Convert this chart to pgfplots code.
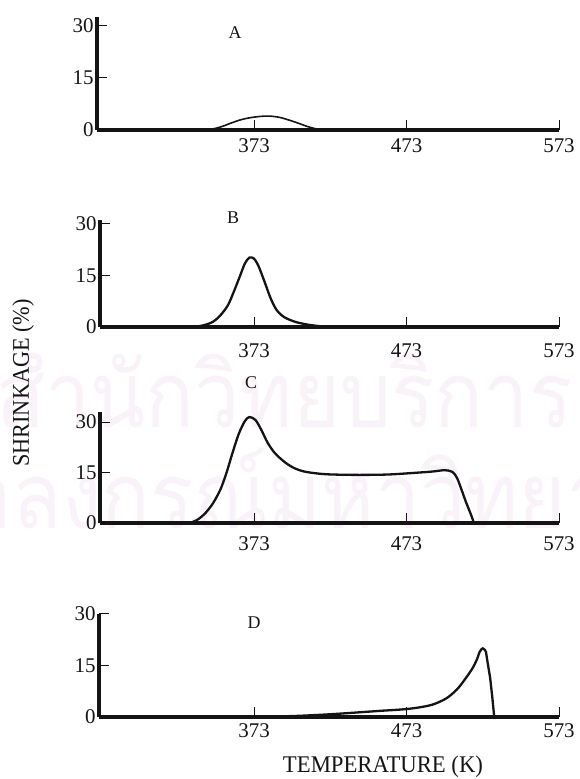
\documentclass[border=0pt]{standalone}
\usepackage{pgfplots}
\pgfplotsset{compat=1.18}
\usepackage{fontspec}
\setmainfont{Liberation Serif}
\newfontfamily\thaifont[Script=Thai]{Loma}
\definecolor{wm}{RGB}{250,242,249}
\definecolor{ink}{RGB}{20,20,20}

\pgfplotsset{
  panel/.style={
    scale only axis,
    xmax=573, ymin=0,
    axis lines=left,
    axis line style={-, line width=3.4bp, ink},
    every outer x axis line/.append style={line width=3.4bp},
    every outer y axis line/.append style={line width=3.4bp},
    xtick={373,473,573}, ytick={0,15,30},
    yticklabels={\raisebox{-7bp}{0},15,30},
    tick align=inside, major tick length=10bp,
    tick style={line width=1bp, ink},
    tick label style={font=\fontsize{21}{21}\selectfont, text=ink},
    /pgf/number format/assume math mode=true,
    clip=false, anchor=south west,
  },
  curve/.style={smooth, tension=0.5, line width=2.3bp, ink},
}

\begin{document}
\begin{tikzpicture}[x=1bp, y=1bp]
\path[use as bounding box] (0,0) rectangle (580,779);

% faint library watermark behind the plots
\begin{scope}
  \clip (0,0) rectangle (580,779);
  \node[anchor=west, text=wm, inner sep=0] at (-4,389)
    {\scalebox{0.88}[1]{\thaifont\fontsize{92}{92}\selectfont สำนักวิทยบริการ}};
  \node[anchor=west, text=wm, inner sep=0] at (-135,279)
    {\scalebox{0.88}[1]{\thaifont\fontsize{92}{92}\selectfont จุฬาลงกรณ์มหาวิทยาลัย}};
\end{scope}

% A
\begin{axis}[panel, at={(97bp,649bp)}, xmin=270, width=462bp,
             ymax=32.5, height=113bp, xticklabel style={yshift=-5bp}]
  \addplot[curve, line width=1.6bp] coordinates {
    (338,0) (346,0.3) (352,1.0) (358,2.0) (364,2.9) (370,3.5) (377,3.9)
    (383,4.0) (390,3.6) (397,2.7) (403,1.8) (408,1.0) (413,0.4) (418,0.05) (422,0) };
\end{axis}

% B
\begin{axis}[panel, at={(100bp,452bp)}, xmin=272, width=459bp,
             ymax=31, height=107bp, xticklabel style={yshift=-13bp}]
  \addplot[curve] coordinates {
    (333,0) (340,0.5) (346,1.5) (351,3.4) (356,6.4) (360,10.5) (364,15.0)
    (367,18.4) (370,20.1) (373,19.8) (376,17.6) (380,13.0) (384,8.2)
    (388,4.8) (393,2.8) (400,1.5) (408,0.7) (417,0.2) (425,0) };
\end{axis}

% C
\begin{axis}[panel, at={(100bp,256bp)}, xmin=272, width=459bp,
             ymax=33, height=111bp, xticklabel style={yshift=-10bp}]
  \addplot[curve] coordinates {
    (331,0) (336,1.0) (341,2.9) (346,5.8) (351,10.0) (355,15.0) (359,21.0)
    (363,26.5) (367,30.3) (370,31.5) (374,30.6) (378,27.5) (382,23.8)
    (387,20.6) (394,17.8) (400,16.2) (407,15.2) (420,14.5) (440,14.3)
    (460,14.4) (475,14.8) (490,15.3) (498,15.7) (503,15.2) (506,13.5)
    (509,10.0) (512,6.2) (515,2.8) (517,0.3) };
\end{axis}

% D
\begin{axis}[panel, at={(99bp,62bp)}, xmin=271.3, width=460bp,
             ymax=30, height=103bp, xticklabel style={yshift=-3bp}]
  \addplot[curve] coordinates {
    (373,0) (400,0.3) (423,0.8) (440,1.3) (456,1.8) (470,2.2) (480,2.7)
    (490,3.6) (499,5.4) (506,8.0) (511,10.8) (516,14.0) (519,16.6)
    (521,19.0) (523,20.0) (525,19.2) };
  \addplot[ink, line width=2.3bp] coordinates
    { (525,19.2) (526.3,15.5) (527.8,11.5) (529.2,6) (530.5,0) };
\end{axis}

% panel letters and axis titles
\begin{scope}[every node/.style={text=ink, inner sep=0}]
  \node[font=\fontsize{18}{18}\selectfont] at (235,746) {A};
  \node[font=\fontsize{18}{18}\selectfont] at (233,561) {B};
  \node[font=\fontsize{18}{18}\selectfont] at (251,396) {C};
  \node[font=\fontsize{18}{18}\selectfont] at (254,156) {D};
  \node[rotate=90] at (23,396)
    {\scalebox{0.93}[1]{\fontsize{24}{24}\selectfont SHRINKAGE (\%)}};
  \node at (383,12)
    {\scalebox{0.95}[1]{\fontsize{24}{24}\selectfont TEMPERATURE (K)}};
\end{scope}
\end{tikzpicture}
\end{document}
